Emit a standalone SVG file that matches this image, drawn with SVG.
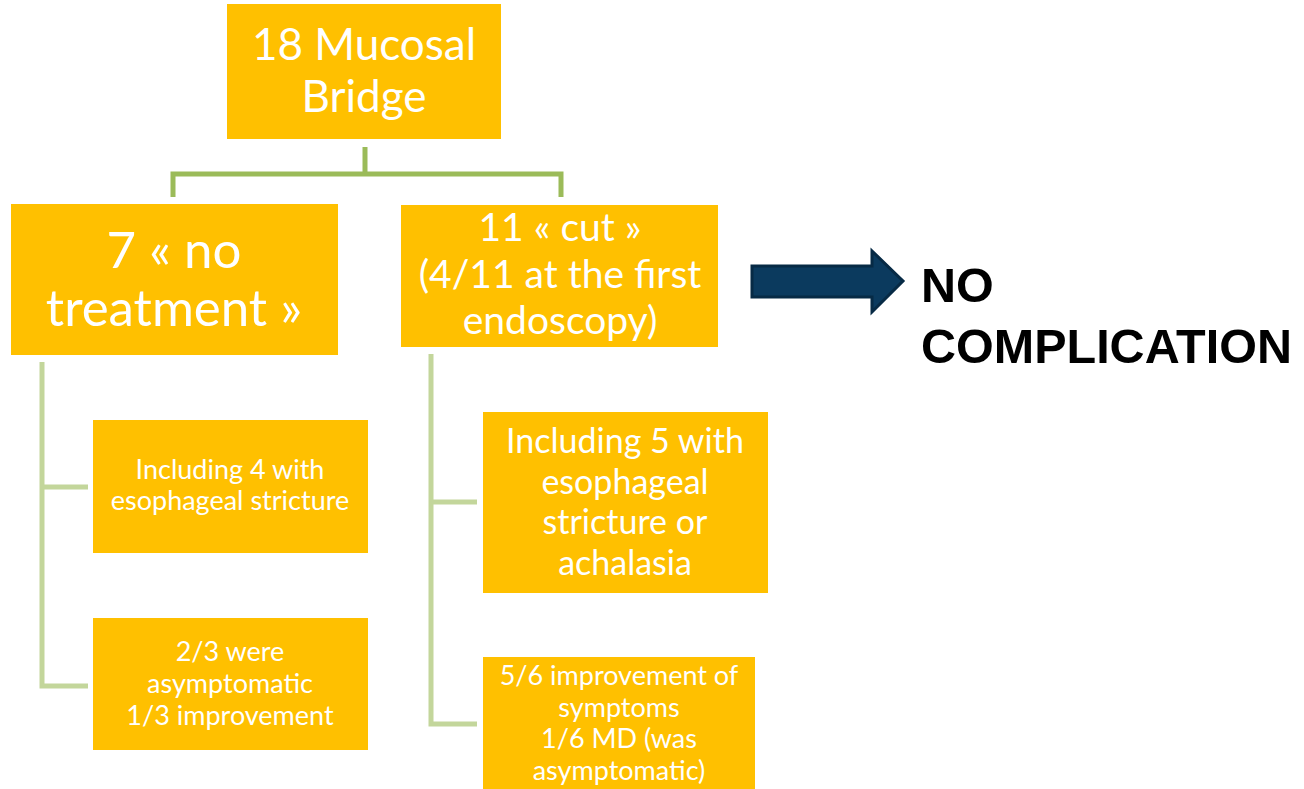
<svg xmlns="http://www.w3.org/2000/svg" width="1304" height="789" viewBox="0 0 1304 789">
<style>
.box{fill:#FFC000;}
.t{fill:#FFFFFF;font-family:"Lato","Open Sans",sans-serif;text-anchor:middle;}
.c1{fill:none;stroke:#9BBB59;stroke-width:5;}
.c2{fill:none;stroke:#C3D69B;stroke-width:5;}
.bt{fill:#000;font-family:"Liberation Sans",Arial,sans-serif;font-weight:bold;font-size:48.5px;}
</style>
<rect width="1304" height="789" fill="#FFFFFF"/>
<g id="connectors">
<path class="c1" d="M365,147 V172 M173,197 V174 H561 V197"/>
<path class="c2" d="M42,362 V686 H88 M42,487 H88"/>
<path class="c2" d="M431,354 V724 H477 M431,502 H477"/>
<polygon points="752,266 872,266 872,251 903,281 872,312 872,297 752,297" fill="#0B3A5E" stroke="#072A45" stroke-width="3"/>
</g>
<g id="root">
<rect class="box" x="227" y="4" width="274" height="135"/>
<text class="t" font-size="44" x="364" y="60">18 Mucosal</text>
<text class="t" font-size="44" x="364" y="112">Bridge</text>
</g>
<g id="no-treatment">
<rect class="box" x="11" y="204" width="327" height="151"/>
<text class="t" font-size="51" x="174" y="268">7 « no</text>
<text class="t" font-size="51" x="174" y="326">treatment »</text>
</g>
<g id="cut">
<rect class="box" x="401" y="205" width="317" height="142"/>
<text class="t" font-size="39" x="560" y="241">11 « cut »</text>
<text class="t" font-size="39" x="560" y="288">(4/11 at the first</text>
<text class="t" font-size="39" x="560" y="334">endoscopy)</text>
</g>
<g id="stricture4">
<rect class="box" x="93" y="420" width="275" height="133"/>
<text class="t" font-size="27" x="230" y="479">Including 4 with</text>
<text class="t" font-size="27" x="230" y="510">esophageal stricture</text>
</g>
<g id="asymptomatic">
<rect class="box" x="93" y="618" width="275" height="132"/>
<text class="t" font-size="27" x="230" y="661">2/3 were</text>
<text class="t" font-size="27" x="230" y="693">asymptomatic</text>
<text class="t" font-size="27" x="230" y="725">1/3 improvement</text>
</g>
<g id="stricture5">
<rect class="box" x="483" y="412" width="285" height="181"/>
<text class="t" font-size="34" x="625" y="453">Including 5 with</text>
<text class="t" font-size="34" x="625" y="494">esophageal</text>
<text class="t" font-size="34" x="625" y="534">stricture or</text>
<text class="t" font-size="34" x="625" y="575">achalasia</text>
</g>
<g id="improvement">
<rect class="box" x="483" y="657" width="272" height="132"/>
<text class="t" font-size="27" x="619" y="685">5/6 improvement of</text>
<text class="t" font-size="27" x="619" y="717">symptoms</text>
<text class="t" font-size="27" x="619" y="748">1/6 MD (was</text>
<text class="t" font-size="27" x="619" y="780">asymptomatic)</text>
</g>
<g id="no-complication">
<text class="bt" x="921" y="302">NO</text>
<text class="bt" x="921" y="363">COMPLICATION</text>
</g>
</svg>
